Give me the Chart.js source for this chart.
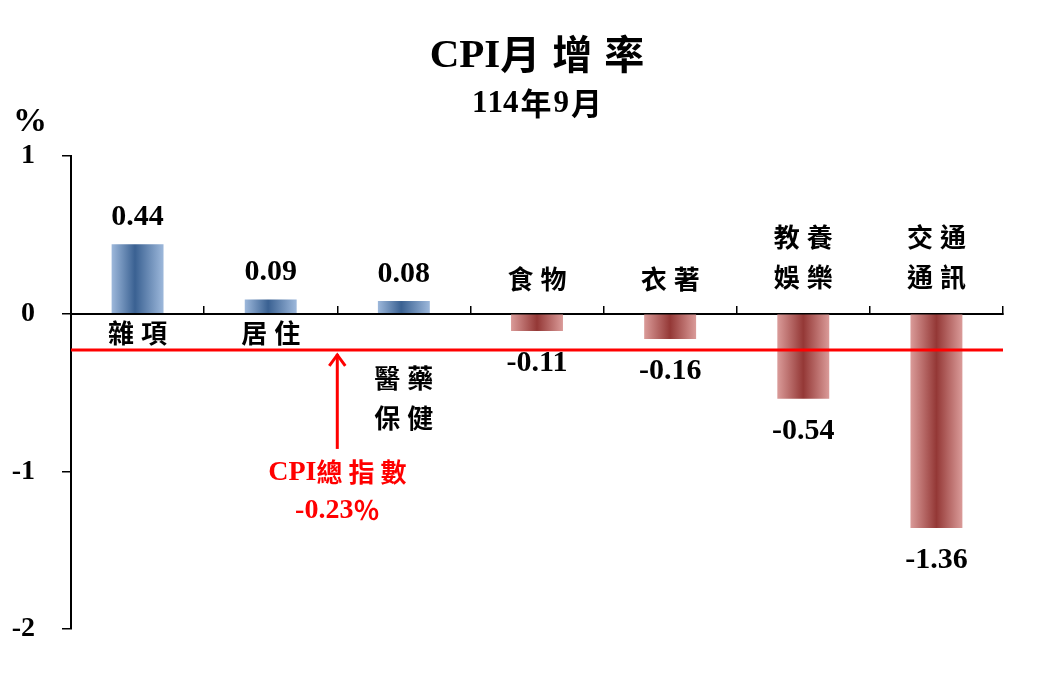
<!DOCTYPE html>
<html><head><meta charset="utf-8">
<script src="https://cdn.jsdelivr.net/npm/chart.js@4.4.0/dist/chart.umd.min.js"></script>
<style>html,body{margin:0;padding:0;background:#fff}#wrap{width:1040px;height:680px}</style>
</head><body><div id="wrap"><canvas id="c" width="1040" height="680"></canvas></div>
<script>
// ---- data ----
const categories = ['雜項','居住','醫藥保健','食物','衣著','教養娛樂','交通通訊'];
const categoryLines = [['雜項'],['居住'],['醫藥','保健'],['食物'],['衣著'],['教養','娛樂'],['交通','通訊']];
const values = [0.44, 0.09, 0.08, -0.11, -0.16, -0.54, -1.36];
const valueLabels = ['0.44','0.09','0.08','-0.11','-0.16','-0.54','-1.36'];
const cpiTotal = -0.23;
const cpiLabelLines = ['CPI總指數', '-0.23％'];
const yTicks = [1, 0, -1, -2];
const titleText = 'CPI月增率';
const subtitleText = '114年9月';
const unitText = '%';

// ---- styling ----
const SERIF = '"Liberation Serif", "Times New Roman", serif';
const CJK = '"Noto Sans CJK TC", "Noto Sans CJK SC", sans-serif';
const BAR_PCT = 0.39;

function isCJK(ch){ return /[\u2e80-\u9fff\uf900-\ufaff\uff00-\uffef\u3000-\u303f]/.test(ch); }
function drawMixed(ctx, text, cx, cy, o) {
  const items = [...text].map(ch => {
    const c = isCJK(ch); const f = c ? o.cjkFont : o.latinFont;
    ctx.font = f; return {ch, f, c, w: ctx.measureText(ch).width};
  });
  const gapBefore = i => (i > 0 && items[i].c && items[i-1].c) ? (o.gap || 0) : (i > 0 && items[i].c !== items[i-1].c ? (o.mixGap || 0) : 0);
  let total = 0;
  items.forEach((it, i) => { total += it.w + gapBefore(i); });
  let x = cx - total / 2;
  ctx.save();
  ctx.fillStyle = o.color || '#000';
  ctx.textAlign = 'left'; ctx.textBaseline = 'middle';
  items.forEach((it, i) => {
    x += gapBefore(i);
    ctx.font = it.f;
    ctx.fillText(it.ch, x, cy + (it.c ? (o.cjkDy || 0) : 0));
    x += it.w;
  });
  ctx.restore();
}

function barColor(ctx) {
  const chart = ctx.chart;
  const v = ctx.raw;
  const pos = v >= 0;
  const xs = chart.scales && chart.scales.x;
  if (!chart.chartArea || !xs || !xs.width) return pos ? '#5b80b2' : '#c0504d';
  const cx = xs.getPixelForValue(ctx.dataIndex);
  const hw = xs.width / categories.length * BAR_PCT / 2;
  const g = chart.ctx.createLinearGradient(cx - hw, 0, cx + hw, 0);
  if (pos) {
    g.addColorStop(0, '#9db8db');
    g.addColorStop(0.45, '#3a6192');
    g.addColorStop(1, '#9db8db');
  } else {
    g.addColorStop(0, '#da9b99');
    g.addColorStop(0.5, '#943836');
    g.addColorStop(1, '#da9b99');
  }
  return g;
}

const annotations = {
  id: 'annotations',
  afterDatasetsDraw(chart) {
    const ctx = chart.ctx;
    const xs = chart.scales.x, ys = chart.scales.y;
    const area = chart.chartArea;
    const y0 = ys.getPixelForValue(0);
    const yc = ys.getPixelForValue(cpiTotal);
    const cx = (area.left + area.right) / 2;

    // title
    drawMixed(ctx, titleText, cx, 56, {latinFont: 'bold 41px ' + SERIF, cjkFont: 'bold 40px ' + CJK, gap: 12, cjkDy: -2});
    drawMixed(ctx, subtitleText, cx, 104, {latinFont: 'bold 31px ' + SERIF, cjkFont: 'bold 31px ' + CJK, gap: 0, mixGap: 2, cjkDy: -1});
    // unit
    ctx.save();
    ctx.font = 'bold 34px ' + SERIF; ctx.fillStyle = '#000';
    ctx.textAlign = 'center'; ctx.textBaseline = 'middle';
    ctx.fillText(unitText, 30, 122);
    ctx.restore();

    // value labels
    ctx.save();
    ctx.font = 'bold 30px ' + SERIF; ctx.fillStyle = '#000';
    ctx.textAlign = 'center'; ctx.textBaseline = 'middle';
    values.forEach((v, i) => {
      const x = xs.getPixelForValue(i);
      const yv = ys.getPixelForValue(v);
      const y = v >= 0 ? yv - 27 : yv + 32;
      ctx.fillText(valueLabels[i], x, y);
    });
    ctx.restore();

    // category labels
    const labFont = 'bold 26px ' + CJK;
    categoryLines.forEach((lines, i) => {
      const x = xs.getPixelForValue(i);
      const v = values[i];
      let ys0;
      if (v >= 0) {
        ys0 = lines.length === 1 ? [y0 + 19] : [yc + 28, yc + 68];
      } else {
        ys0 = lines.length === 1 ? [y0 - 35] : [y0 - 77, y0 - 37];
      }
      lines.forEach((t, k) => drawMixed(ctx, t, x, ys0[k], {latinFont: labFont, cjkFont: labFont, gap: 7}));
    });

    // CPI total line
    ctx.save();
    ctx.strokeStyle = '#ff0000'; ctx.lineWidth = 3;
    ctx.beginPath(); ctx.moveTo(area.left, yc); ctx.lineTo(area.right, yc); ctx.stroke();
    // arrow
    const ax = xs.getPixelForValue(1.5);
    ctx.beginPath(); ctx.moveTo(ax, yc + 4); ctx.lineTo(ax, yc + 99); ctx.stroke();
    ctx.lineJoin = 'miter';
    ctx.beginPath(); ctx.moveTo(ax - 8, yc + 16); ctx.lineTo(ax, yc + 5); ctx.lineTo(ax + 8, yc + 16); ctx.stroke();
    ctx.restore();
    drawMixed(ctx, cpiLabelLines[0], ax, yc + 123, {latinFont: 'bold 28px ' + SERIF, cjkFont: 'bold 26px ' + CJK, gap: 6, color: '#ff0000', cjkDy: -1});
    drawMixed(ctx, cpiLabelLines[1], ax, yc + 161, {latinFont: 'bold 28px ' + SERIF, cjkFont: 'bold 26px ' + CJK, gap: 0, color: '#ff0000', cjkDy: -1});
  }
};

new Chart(document.getElementById('c'), {
  type: 'bar',
  data: {
    labels: categories,
    datasets: [{
      data: values,
      backgroundColor: barColor,
      borderWidth: 0,
      barPercentage: BAR_PCT,
      categoryPercentage: 1
    }]
  },
  options: {
    responsive: false,
    animation: false,
    devicePixelRatio: 1,
    layout: { padding: { left: 0, right: 37, top: 156, bottom: 51 } },
    plugins: { legend: { display: false }, tooltip: { enabled: false }, title: { display: false } },
    scales: {
      x: {
        position: { y: 0 },
        offset: true,
        ticks: { display: false },
        grid: { offset: true, drawOnChartArea: false, drawTicks: true, tickLength: -9, color: '#000', lineWidth: 1.5 },
        border: { display: true, color: '#000', width: 2 }
      },
      y: {
        min: -2, max: 1,
        afterBuildTicks: s => { s.ticks = yTicks.map(v => ({ value: v })); },
        afterFit: s => { s.width = 71; },
        ticks: { font: { family: SERIF, size: 28, weight: 'bold' }, color: '#000', padding: 27, callback: v => String(v) },
        grid: { drawOnChartArea: false, drawTicks: true, tickLength: 9, color: '#000', lineWidth: 1.5 },
        border: { display: true, color: '#000', width: 2 }
      }
    }
  },
  plugins: [annotations]
});
</script>
</body></html>
